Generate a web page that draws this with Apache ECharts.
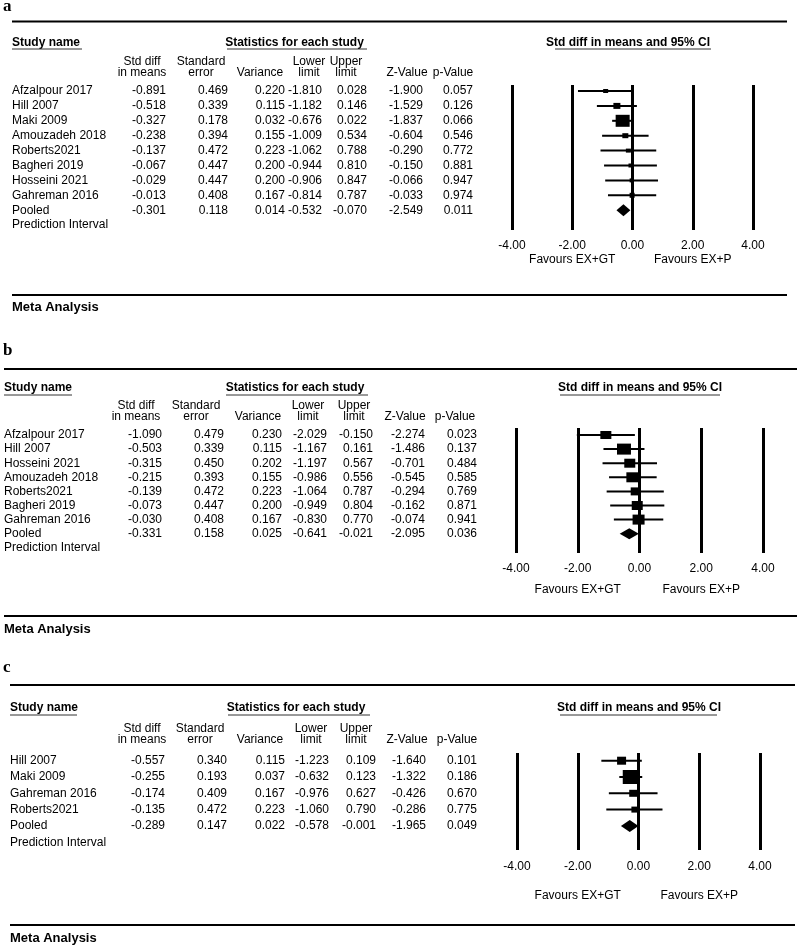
<!DOCTYPE html>
<html><head><meta charset="utf-8">
<script src="https://cdn.jsdelivr.net/npm/echarts@6/dist/echarts.min.js"></script>
<style>html,body{margin:0;padding:0;background:#fff}#c{width:800px;height:947px}</style>
</head><body><div id="c"></div>
<script>
// ---------- DATA ----------
const axisTicks = [-4, -2, 0, 2, 4];

const namesA = ['Afzalpour 2017','Hill 2007','Maki 2009','Amouzadeh 2018','Roberts2021','Bagheri 2019','Hosseini 2021','Gahreman 2016','Pooled'];
const estA   = [-0.891,-0.518,-0.327,-0.238,-0.137,-0.067,-0.029,-0.013,-0.301];
const seA    = [0.469,0.339,0.178,0.394,0.472,0.447,0.447,0.408,0.118];
const varA   = [0.220,0.115,0.032,0.155,0.223,0.200,0.200,0.167,0.014];
const lowA   = [-1.810,-1.182,-0.676,-1.009,-1.062,-0.944,-0.906,-0.814,-0.532];
const upA    = [0.028,0.146,0.022,0.534,0.788,0.810,0.847,0.787,-0.070];
const zA     = [-1.900,-1.529,-1.837,-0.604,-0.290,-0.150,-0.066,-0.033,-2.549];
const pA     = [0.057,0.126,0.066,0.546,0.772,0.881,0.947,0.974,0.011];

const namesB = ['Afzalpour 2017','Hill 2007','Hosseini 2021','Amouzadeh 2018','Roberts2021','Bagheri 2019','Gahreman 2016','Pooled'];
const estB   = [-1.090,-0.503,-0.315,-0.215,-0.139,-0.073,-0.030,-0.331];
const seB    = [0.479,0.339,0.450,0.393,0.472,0.447,0.408,0.158];
const varB   = [0.230,0.115,0.202,0.155,0.223,0.200,0.167,0.025];
const lowB   = [-2.029,-1.167,-1.197,-0.986,-1.064,-0.949,-0.830,-0.641];
const upB    = [-0.150,0.161,0.567,0.556,0.787,0.804,0.770,-0.021];
const zB     = [-2.274,-1.486,-0.701,-0.545,-0.294,-0.162,-0.074,-2.095];
const pB     = [0.023,0.137,0.484,0.585,0.769,0.871,0.941,0.036];

const namesC = ['Hill 2007','Maki 2009','Gahreman 2016','Roberts2021','Pooled'];
const estC   = [-0.557,-0.255,-0.174,-0.135,-0.289];
const seC    = [0.340,0.193,0.409,0.472,0.147];
const varC   = [0.115,0.037,0.167,0.223,0.022];
const lowC   = [-1.223,-0.632,-0.976,-1.060,-0.578];
const upC    = [0.109,0.123,0.627,0.790,-0.001];
const zC     = [-1.640,-1.322,-0.426,-0.286,-1.965];
const pC     = [0.101,0.186,0.670,0.775,0.049];

// ---------- STYLE / LAYOUT ----------
const boxStyleA = [[5,4],[7,6],[14,12],[6,5],[5,4],[4,4],[4,4],[5,5]];
const boxStyleB = [[11,8],[14,11],[11,9],[13,10],[9,8],[11,9],[12,10]];
const boxStyleC = [[9,8],[16,14],[8,7],[6,6]];

const FONT = "'Liberation Sans', Arial, Helvetica, sans-serif";
const panels = [
  { letter:'a', letterX:3, letterY:7, rx1:12, rx2:787, topRule:21.5, botRule:295, metaY:307,
    headY:43, ulY:49, h1:62, h2:73, row0:91, pitch:14.9, nameX:12,
    cols:[166,228,285,322,367,423,473], hc:[142,201,260,309,346,407,453],
    statC:294.5, statUl:[227,367], studyUl:[12,82], ciC:628, ciUl:[555,711],
    grid:{left:512,width:241,top:85,bottom:230}, margin:10, favY:260, diamondH:12,
    names:namesA, est:estA, se:seA, vr:varA, lo:lowA, up:upA, z:zA, p:pA, boxes:boxStyleA },
  { letter:'b', letterX:3, letterY:351, rx1:4, rx2:797, topRule:369, botRule:616, metaY:629,
    headY:388, ulY:395, h1:406, h2:417, row0:435, pitch:14.1, nameX:4,
    cols:[162,224,282,327,373,425,477], hc:[136,196,258,308,354,405,455],
    statC:295, statUl:[226,368], studyUl:[4,72], ciC:640, ciUl:[560,720],
    grid:{left:516,width:247,top:428,bottom:553}, margin:10, favY:590, diamondH:11,
    names:namesB, est:estB, se:seB, vr:varB, lo:lowB, up:upB, z:zB, p:pB, boxes:boxStyleB },
  { letter:'c', letterX:3, letterY:668, rx1:10, rx2:795, topRule:685, botRule:925, metaY:938,
    headY:708, ulY:715, h1:729, h2:740, row0:760.7, pitch:16.3, nameX:10,
    cols:[165,227,285,329,376,426,477], hc:[142,200,260,311,356,407,457],
    statC:296, statUl:[228,370], studyUl:[10,77], ciC:639, ciUl:[560,717],
    grid:{left:517,width:243,top:753,bottom:850}, margin:11, favY:896, diamondH:12,
    names:namesC, est:estC, se:seC, vr:varC, lo:lowC, up:upC, z:zC, p:pC, boxes:boxStyleC }
];

const chart = echarts.init(document.getElementById('c'), null, {renderer:'canvas'});

function makeRender(boxes, pooledIdx, dh){
  return function(params, api){
    const i = params.dataIndex;
    const row = api.value(3);
    const a = api.coord([api.value(0), row]);
    const b = api.coord([api.value(1), row]);
    const c = api.coord([api.value(2), row]);
    if (i === pooledIdx){
      return {type:'polygon', shape:{points:[[a[0],a[1]],[c[0],c[1]-dh/2],[b[0],b[1]],[c[0],c[1]+dh/2]]},
              style:{fill:'#000'}};
    }
    const w = boxes[i][0], h = boxes[i][1];
    return {type:'group', children:[
      {type:'line', shape:{x1:a[0],y1:a[1],x2:b[0],y2:b[1]}, style:{stroke:'#000', lineWidth:2}},
      {type:'rect', shape:{x:c[0]-w/2, y:c[1]-h/2, width:w, height:h}, style:{fill:'#000'}}
    ]};
  };
}

const grids = [], xAxes = [], yAxes = [], series = [];
panels.forEach((P, k) => {
  const g = P.grid;
  grids.push({left:g.left, width:g.width, top:g.top, height:g.bottom-g.top});
  xAxes.push({
    type:'value', gridIndex:k, min:axisTicks[0], max:axisTicks[axisTicks.length-1], interval:2,
    axisLine:{show:false}, axisTick:{show:false},
    splitLine:{show:true, lineStyle:{color:'#000', width:3}},
    axisLabel:{margin:P.margin, fontSize:12, color:'#000', fontFamily:FONT, formatter:v => v.toFixed(2)}
  });
  yAxes.push({
    type:'value', gridIndex:k, inverse:true,
    min:(g.top - P.row0)/P.pitch, max:(g.bottom - P.row0)/P.pitch,
    show:false, splitLine:{show:false}
  });
  const data = P.est.map((e, i) => [P.lo[i], P.up[i], e, i]);
  series.push({
    type:'custom', xAxisIndex:k, yAxisIndex:k, clip:false, silent:true,
    renderItem: makeRender(P.boxes, P.est.length-1, P.diamondH),
    encode:{x:[0,1,2], y:3},
    data
  });
});

chart.setOption({
  animation:false,
  backgroundColor:'#fff',
  grid:grids, xAxis:xAxes, yAxis:yAxes, series
});

// ---------- TABLE TEXT & RULES ----------
const gfx = [];
function txt(text, x, y, align, opts){
  opts = opts || {};
  gfx.push({type:'text', silent:true, style:{
    text, x, y, textAlign:align||'left', textVerticalAlign:'middle',
    fontSize:opts.size||12, fontWeight:opts.bold?'bold':'normal',
    fontFamily:opts.family||FONT, fill:opts.color||'#000'
  }});
}
function line(x1,y1,x2,y2,w,color){
  gfx.push({type:'line', silent:true, shape:{x1,y1,x2,y2}, style:{stroke:color||'#000', lineWidth:w}});
}

const headers1 = ['Std diff','Standard','','Lower','Upper','',''];
const headers2 = ['in means','error','Variance','limit','limit','Z-Value','p-Value'];

panels.forEach((P, k) => {
  txt(P.letter, P.letterX, P.letterY, 'left', {size:17, bold:true, family:"'Liberation Serif', 'Times New Roman', serif"});
  line(P.rx1, P.topRule, P.rx2, P.topRule, 2);
  line(P.rx1, P.botRule, P.rx2, P.botRule, 2);
  txt('Meta Analysis', P.nameX, P.metaY, 'left', {size:13, bold:true});

  txt('Study name', P.nameX, P.headY, 'left', {bold:true});
  line(P.studyUl[0], P.ulY, P.studyUl[1], P.ulY, 1, '#333');
  txt('Statistics for each study', P.statC, P.headY, 'center', {bold:true});
  line(P.statUl[0], P.ulY, P.statUl[1], P.ulY, 1, '#333');
  txt('Std diff in means and 95% CI', P.ciC, P.headY, 'center', {bold:true});
  line(P.ciUl[0], P.ulY, P.ciUl[1], P.ulY, 1, '#333');

  headers1.forEach((h, j) => { if (h) txt(h, P.hc[j], P.h1, 'center'); });
  headers2.forEach((h, j) => txt(h, P.hc[j], P.h2, 'center'));

  P.names.forEach((n, i) => {
    const y = P.row0 + P.pitch * i;
    txt(n, P.nameX, y, 'left');
    const vals = [P.est[i], P.se[i], P.vr[i], P.lo[i], P.up[i], P.z[i], P.p[i]];
    vals.forEach((v, j) => txt(v.toFixed(3), P.cols[j], y, 'right'));
  });
  txt('Prediction Interval', P.nameX, P.row0 + P.pitch * P.names.length, 'left');

  const xl = chart.convertToPixel({xAxisIndex:k, yAxisIndex:k}, [axisTicks[1], 0])[0];
  const xr = chart.convertToPixel({xAxisIndex:k, yAxisIndex:k}, [axisTicks[3], 0])[0];
  txt('Favours EX+GT', xl, P.favY, 'center');
  txt('Favours EX+P', xr, P.favY, 'center');
});

chart.setOption({graphic:{elements:gfx}});
</script>
</body></html>
